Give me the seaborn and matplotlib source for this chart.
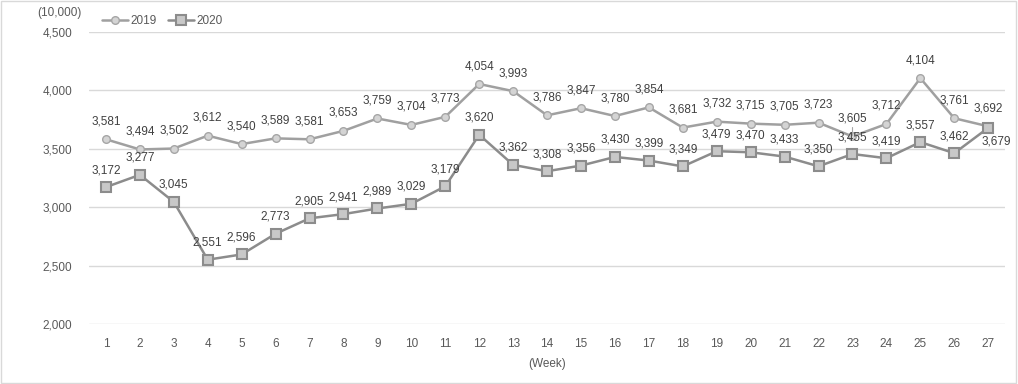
import pandas as pd
import seaborn as sns
import matplotlib.pyplot as plt
from matplotlib.patches import Rectangle

weeks = list(range(1, 28))
sales_2019 = [3581, 3494, 3502, 3612, 3540, 3589, 3581, 3653, 3759, 3704, 3773, 4054, 3993, 3786,
              3847, 3780, 3854, 3681, 3732, 3715, 3705, 3723, 3605, 3712, 4104, 3761, 3692]
sales_2020 = [3172, 3277, 3045, 2551, 2596, 2773, 2905, 2941, 2989, 3029, 3179, 3620, 3362, 3308,
              3356, 3430, 3399, 3349, 3479, 3470, 3433, 3350, 3455, 3419, 3557, 3462, 3679]
y_ticks = [2000, 2500, 3000, 3500, 4000, 4500]

df = pd.DataFrame({"week": weeks, "2019": sales_2019, "2020": sales_2020})

sns.set_style("white")
plt.rcParams["font.family"] = ["Liberation Sans", "DejaVu Sans"]
fs = 8.5

fig = plt.figure(figsize=(10.18, 3.84), dpi=100)
ax = fig.add_axes([0.0874, 0.156, 0.9, 0.761])

sns.lineplot(data=df, x="week", y="2019", ax=ax, color="#a0a0a0", lw=1.8, marker="o",
             markersize=5.5, markerfacecolor="#d4d4d4", markeredgecolor="#a6a6a6",
             markeredgewidth=1, label="2019")
sns.lineplot(data=df, x="week", y="2020", ax=ax, color="#8c8c8c", lw=1.8, marker="s",
             markersize=6.5, markerfacecolor="#c8c8c8", markeredgecolor="#8c8c8c",
             markeredgewidth=1.5, label="2020")

# data labels
for w, v in zip(weeks, sales_2019):
    ax.annotate(f"{v:,}", (w, v), xytext=(0, 18), textcoords="offset pixels",
                ha="center", va="center", fontsize=fs, color="#404040")
    if w == 23:
        # leader line
        ax.plot([w, w], [v + 10, v + 85], color="#a6a6a6", lw=0.8)
for w, v in zip(weeks, sales_2020):
    dx, dy = (8, -14) if w == 27 else (0, 17)
    ax.annotate(f"{v:,}", (w, v), xytext=(dx, dy), textcoords="offset pixels",
                ha="center", va="center", fontsize=fs, color="#404040")

ax.set_xlim(0.5, 27.5)
ax.set_ylim(2000, 4500)
ax.set_xticks(weeks)
ax.set_yticks(y_ticks)
ax.set_yticklabels([f"{t:,}" for t in y_ticks])
ax.yaxis.grid(True, color="#d9d9d9", lw=1)
ax.tick_params(axis="both", length=0, labelsize=fs, labelcolor="#595959")
ax.tick_params(axis="x", pad=10)
ax.tick_params(axis="y", pad=12)
for s in ax.spines.values():
    s.set_visible(False)
ax.set_xlabel("(Week)", fontsize=fs, color="#595959", labelpad=6)
ax.set_ylabel("")

fig.text(0.037, 0.966, "(10,000)", fontsize=fs, color="#595959", ha="left", va="center")
ax.legend(loc="center left", bbox_to_anchor=(0.014, 1.038), ncol=2, frameon=False,
          fontsize=fs, handlelength=2.2, columnspacing=1.0, handletextpad=0.2,
          labelcolor="#595959", borderaxespad=0, borderpad=0)

fig.patches.append(Rectangle((0.001, 0.002), 0.997, 0.995, transform=fig.transFigure,
                             fill=False, edgecolor="#d9d9d9", lw=1))

fig.savefig("out.png", dpi=100)
